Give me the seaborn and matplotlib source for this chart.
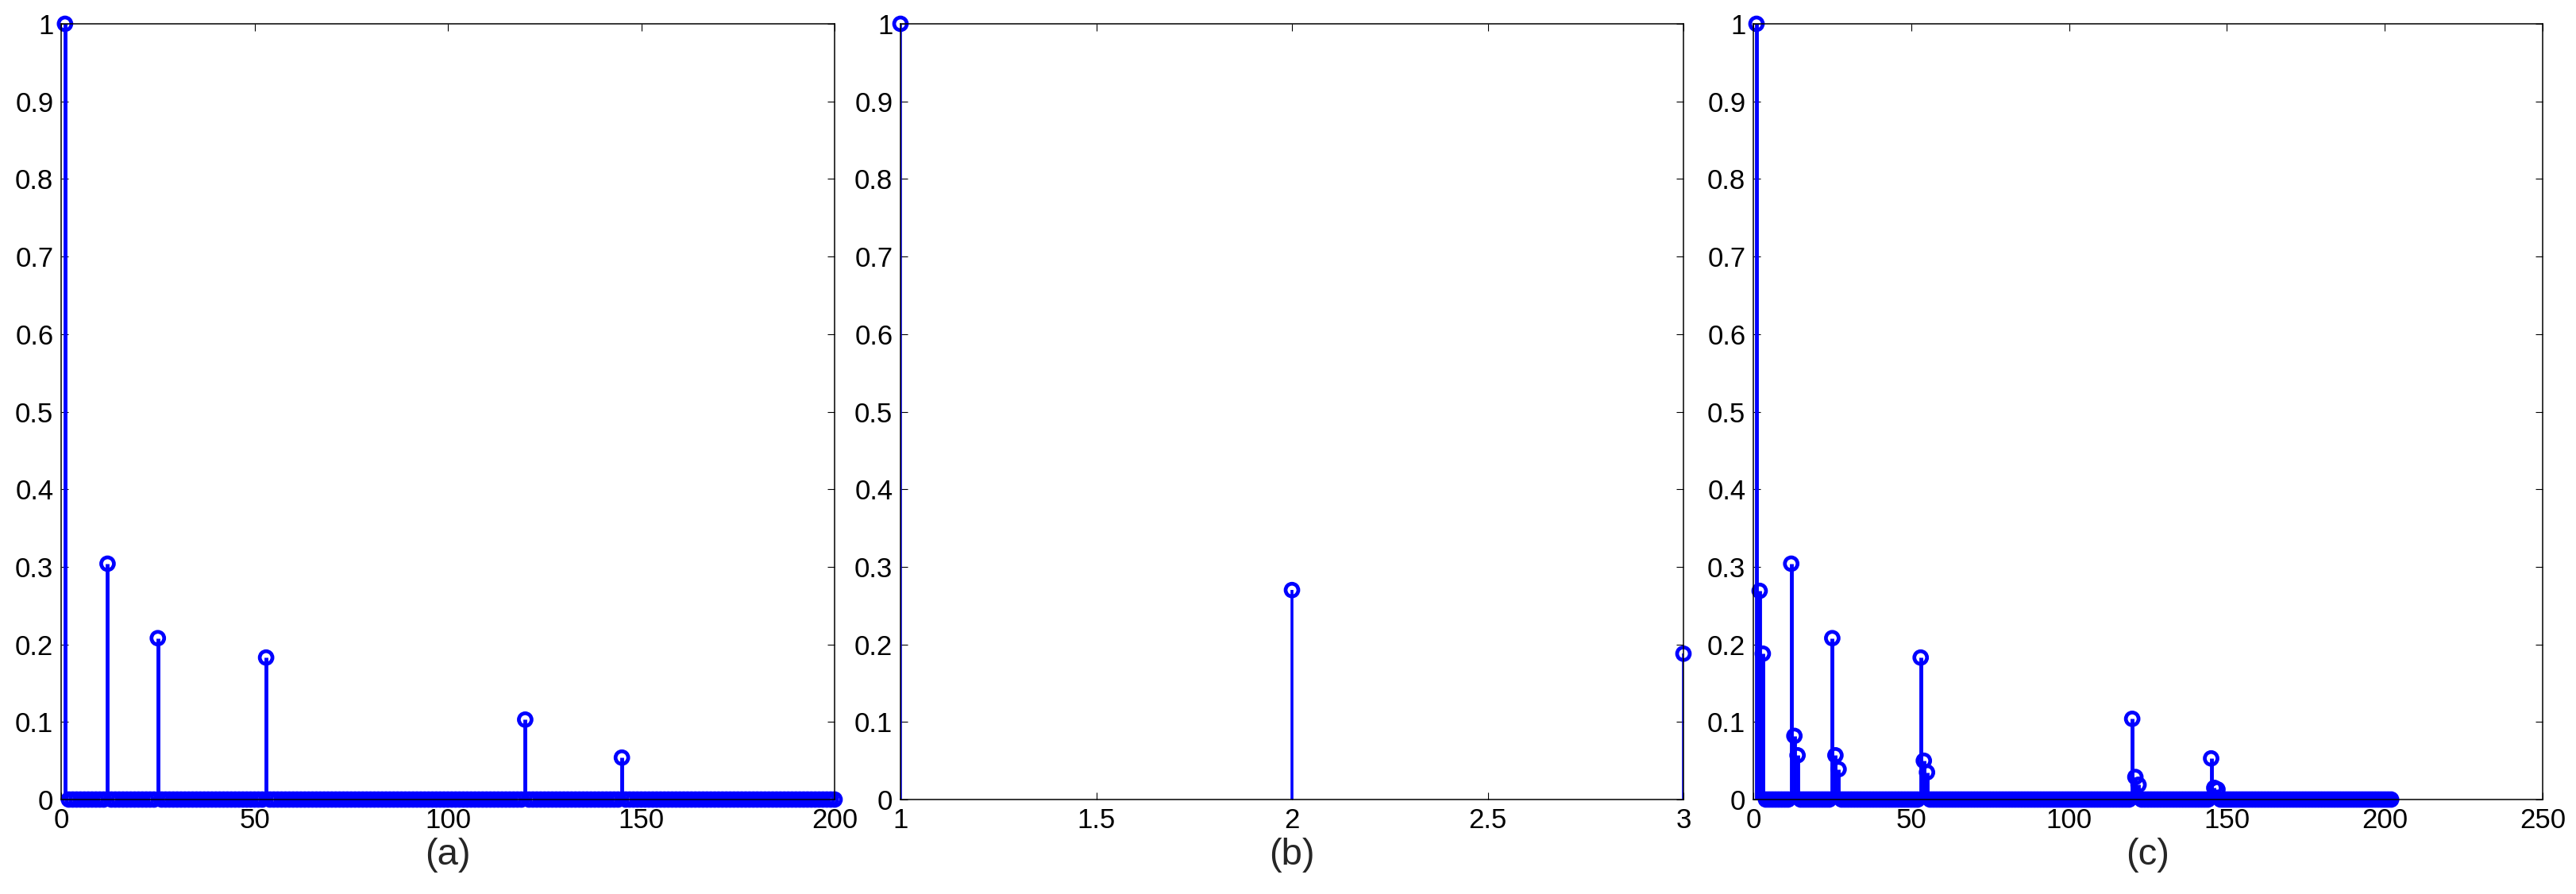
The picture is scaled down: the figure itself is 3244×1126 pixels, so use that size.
import numpy as np
import pandas as pd
import matplotlib
matplotlib.use('Agg')
import matplotlib.pyplot as plt
import seaborn as sns
from matplotlib.ticker import FuncFormatter

# (a) stem peaks, series length 200
a_len = 200
a_peak_x = [1, 12, 25, 53, 120, 145]
a_peak_y = [1.0, 0.304, 0.208, 0.183, 0.103, 0.054]

# (b) three points
b_x = [1, 2, 3]
b_y = [1.0, 0.27, 0.188]

# (c) stem peaks, series length 202
c_len = 202
c_peak_x = [1, 2, 3, 12, 13, 14, 25, 26, 27, 53, 54, 55, 120, 121, 122, 145, 146, 147]
c_peak_y = [1.0, 0.269, 0.188, 0.304, 0.082, 0.057, 0.208, 0.057, 0.039,
            0.183, 0.050, 0.035, 0.104, 0.029, 0.019, 0.053, 0.015, 0.013]

y_ticks = [0, 0.1, 0.2, 0.3, 0.4, 0.5, 0.6, 0.7, 0.8, 0.9, 1]
labels = ['(a)', '(b)', '(c)']


def sparse_series(n, px, py):
    vals = np.zeros(n)
    vals[np.array(px) - 1] = py
    return pd.DataFrame({'x': np.arange(1, n + 1), 'y': vals})


df_a = sparse_series(a_len, a_peak_x, a_peak_y)
df_b = pd.DataFrame({'x': b_x, 'y': b_y})
df_c = sparse_series(c_len, c_peak_x, c_peak_y)

sns.set_theme(style='ticks')
plt.rcParams['font.family'] = ['Liberation Sans', 'DejaVu Sans']

blue = '#0000ff'
fig = plt.figure(figsize=(32.44, 11.26), dpi=100)
W, H = 3244, 1126
boxes = [(77, 1051), (1134, 2120), (2208, 3202)]
top, bottom = 30, 1007

panels = [
    (df_a, (0, 200), [0, 50, 100, 150, 200], 3.5),
    (df_b, (1, 3), [1, 1.5, 2, 2.5, 3], 2.6),
    (df_c, (0, 250), [0, 50, 100, 150, 200, 250], 3.5),
]

fmt = FuncFormatter(lambda v, p: '{:g}'.format(v))

for (df, xlim, xt, stem_lw), (l, r), lab in zip(panels, boxes, labels):
    ax = fig.add_axes([l / W, 1 - bottom / H, (r - l) / W, (bottom - top) / H])
    ax.vlines(df['x'], 0, df['y'], color=blue, linewidth=stem_lw, zorder=2)
    sns.scatterplot(data=df, x='x', y='y', ax=ax, marker='o', color=blue,
                    facecolors='none', edgecolor=blue, linewidth=3.4,
                    s=11.5 ** 2, clip_on=False, legend=False, zorder=1)
    ax.set_xlim(*xlim)
    ax.set_ylim(0, 1)
    ax.set_xticks(xt)
    ax.set_yticks(y_ticks)
    ax.xaxis.set_major_formatter(fmt)
    ax.yaxis.set_major_formatter(fmt)
    ax.tick_params(direction='in', length=6.5, width=0.8, labelsize=25,
                   pad=7, top=True, right=True, colors='black')
    for sp in ax.spines.values():
        sp.set_visible(True)
        sp.set_linewidth(1.1)
        sp.set_color('black')
    ax.set_facecolor('white')
    ax.set_ylabel('')
    ax.set_xlabel(lab, fontsize=34, labelpad=4)

fig.savefig('out.png', dpi=100, facecolor='white')
